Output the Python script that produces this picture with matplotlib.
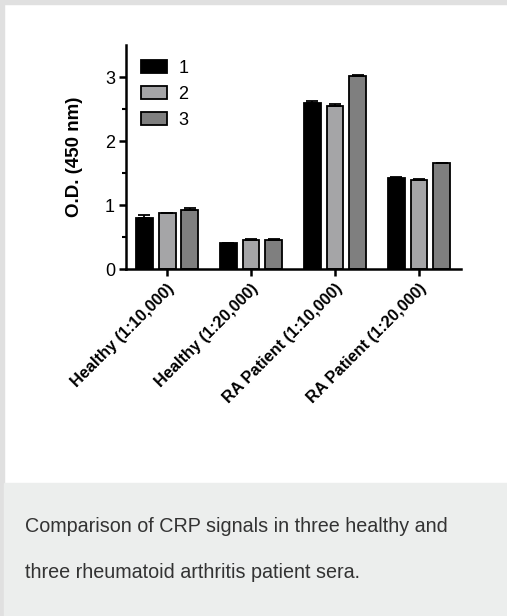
import numpy as np
import matplotlib
matplotlib.use("Agg")
import matplotlib.pyplot as plt
from matplotlib.patches import Rectangle

plt.rcParams['font.family'] = ['Liberation Sans', 'DejaVu Sans']

groups = ["Healthy (1:10,000)", "Healthy (1:20,000)",
          "RA Patient (1:10,000)", "RA Patient (1:20,000)"]
series = ["1", "2", "3"]
vals1 = [0.80, 0.40, 2.59, 1.42]
vals2 = [0.87, 0.46, 2.55, 1.39]
vals3 = [0.92, 0.46, 3.01, 1.65]
err1 = [0.05, 0.01, 0.03, 0.02]
err2 = [0.01, 0.01, 0.03, 0.01]
err3 = [0.03, 0.01, 0.02, 0.01]
colors = ["#000000", "#a5a5a7", "#7f7f7f"]
caption = ["Comparison of CRP signals in three healthy and",
           "three rheumatoid arthritis patient sera."]

W, H = 507, 616
fig = plt.figure(figsize=(W / 100, H / 100), dpi=100)

# frame border and caption panel
fig.patches.append(Rectangle((0, 0), 4 / W, 1, transform=fig.transFigure,
                             color="#e0e0e0", zorder=0))
fig.patches.append(Rectangle((0, 1 - 4 / H), 1, 4 / H, transform=fig.transFigure,
                             color="#e0e0e0", zorder=0))
fig.patches.append(Rectangle((4 / W, 0), 1, (H - 483) / H, transform=fig.transFigure,
                             color="#eceeed", zorder=0))
fig.text(25 / W, 1 - 527 / H, caption[0], fontsize=14.2, color="#333333", va="center")
fig.text(25 / W, 1 - 572 / H, caption[1], fontsize=14.2, color="#333333", va="center")

ax = fig.add_axes([126 / W, 1 - 269 / H, (461 - 126) / W, (269 - 45) / H])

x = np.arange(len(groups))
pitch = 0.27
width = 0.2
for i, (v, e) in enumerate(zip([vals1, vals2, vals3], [err1, err2, err3])):
    ax.bar(x + (i - 1) * pitch, v, width, color=colors[i], edgecolor="black",
           linewidth=1.3, label=series[i], zorder=2)
    ax.errorbar(x + (i - 1) * pitch, v, yerr=[np.zeros(len(e)), e], fmt="none",
                ecolor="black", elinewidth=1.3, capsize=4, capthick=1.3, zorder=3)

ax.set_xlim(-0.49, 3.5)
ax.set_ylim(0, 3.5)
ax.set_yticks([0, 1, 2, 3])
ax.set_yticks([0.5, 1.5, 2.5], minor=True)
ax.set_xticks(x)
ax.set_xticklabels(groups, rotation=45, ha="right", rotation_mode="anchor",
                   fontsize=11.8, fontweight="bold")
ax.tick_params(axis="y", labelsize=13, width=1.8, length=5, pad=3)
ax.tick_params(axis="y", which="minor", width=1.5, length=3)
ax.tick_params(axis="x", width=1.8, length=5)
for s in ["top", "right"]:
    ax.spines[s].set_visible(False)
for s in ["left", "bottom"]:
    ax.spines[s].set_linewidth(1.8)
ax.set_ylabel("O.D. (450 nm)", fontsize=13.5, fontweight="bold", labelpad=16)

ax.legend(loc="upper left", bbox_to_anchor=(0.024, 0.965), borderaxespad=0,
          frameon=False, fontsize=13, handlelength=1.45, handleheight=0.7,
          labelspacing=0.5, handletextpad=0.6)

fig.savefig("out.png", dpi=100)
